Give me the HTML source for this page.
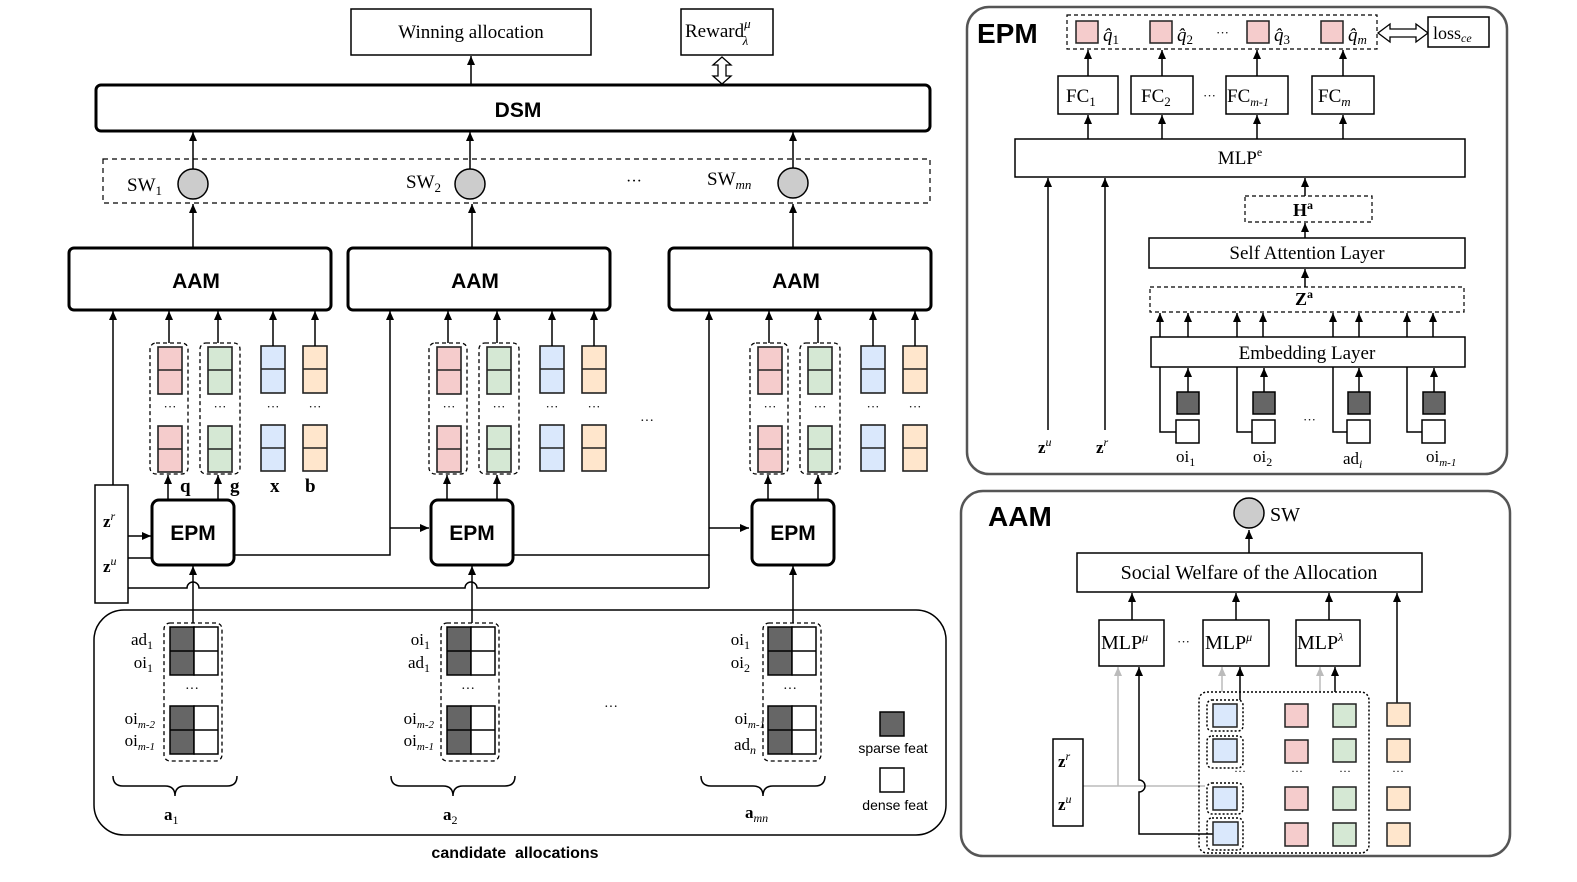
<!DOCTYPE html>
<html><head><meta charset="utf-8"><style>
html,body{margin:0;padding:0;background:#fff;}
svg{display:block;}
text{font-family:"Liberation Serif",serif;fill:#000;}
.s{font-family:"Liberation Sans",sans-serif;font-weight:bold;}
</style></head><body>
<svg width="1577" height="882" viewBox="0 0 1577 882" xmlns="http://www.w3.org/2000/svg">
<defs>
<marker id="a" markerWidth="10" markerHeight="10" refX="9" refY="4" orient="auto" markerUnits="userSpaceOnUse"><path d="M0,0 L9,4 L0,8 Z" fill="#000"/></marker>
<marker id="g" markerWidth="10" markerHeight="10" refX="9" refY="4" orient="auto" markerUnits="userSpaceOnUse"><path d="M0,0 L9,4 L0,8 Z" fill="#bbb"/></marker>
<g id="pk" stroke="#222" stroke-width="1.6"><rect x="0" y="0" width="24" height="47" fill="#f5cccc"/><line x1="0" y1="23" x2="24" y2="23"/><rect x="0" y="79" width="24" height="46" fill="#f5cccc"/><line x1="0" y1="102" x2="24" y2="102"/></g>
<g id="gr" stroke="#222" stroke-width="1.6"><rect x="0" y="0" width="24" height="47" fill="#d5e8d4"/><line x1="0" y1="23" x2="24" y2="23"/><rect x="0" y="79" width="24" height="46" fill="#d5e8d4"/><line x1="0" y1="102" x2="24" y2="102"/></g>
<g id="bl" stroke="#222" stroke-width="1.6"><rect x="0" y="0" width="24" height="47" fill="#dae8fc"/><line x1="0" y1="23" x2="24" y2="23"/><rect x="0" y="79" width="24" height="46" fill="#dae8fc"/><line x1="0" y1="102" x2="24" y2="102"/></g>
<g id="or" stroke="#222" stroke-width="1.6"><rect x="0" y="0" width="24" height="47" fill="#ffe6cc"/><line x1="0" y1="23" x2="24" y2="23"/><rect x="0" y="79" width="24" height="46" fill="#ffe6cc"/><line x1="0" y1="102" x2="24" y2="102"/></g>
<g id="cells" stroke="#000" stroke-width="1.5"><rect x="0" y="0" width="24" height="48" fill="#666"/><rect x="24" y="0" width="24" height="48" fill="#fff"/><line x1="0" y1="24" x2="48" y2="24"/><rect x="0" y="79" width="24" height="48" fill="#666"/><rect x="24" y="79" width="24" height="48" fill="#fff"/><line x1="0" y1="103" x2="48" y2="103"/></g>
</defs>

<rect x="351" y="9" width="240" height="46" fill="#fff" stroke="#000" stroke-width="1.5"/>
<text x="471" y="38" font-size="19" text-anchor="middle">Winning allocation</text>
<rect x="681" y="9" width="92" height="46" fill="#fff" stroke="#000" stroke-width="1.5"/>
<text x="685" y="37" font-size="19">Reward<tspan font-size="13" font-style="italic" dy="-9">μ</tspan><tspan font-size="13" font-style="italic" dx="-8" dy="17">λ</tspan></text>
<line x1="471" y1="84" x2="471" y2="56" stroke="#000" stroke-width="1.5" marker-end="url(#a)"/>
<path d="M722,57 L731,65 L726,65 L726,76 L731,76 L722,84 L713,76 L718,76 L718,65 L713,65 Z" fill="#fff" stroke="#000" stroke-width="1.3"/>
<rect x="96" y="85" width="834" height="46" rx="5" fill="#fff" stroke="#000" stroke-width="3"/>
<text x="518" y="117" font-size="21" class="s" text-anchor="middle">DSM</text>
<rect x="103" y="159" width="827" height="44" fill="none" stroke="#000" stroke-width="1.2" stroke-dasharray="5,4"/>
<text x="127" y="191" font-size="19">SW<tspan font-size="13" dy="4">1</tspan></text>
<text x="406" y="188" font-size="19">SW<tspan font-size="13" dy="4">2</tspan></text>
<text x="626" y="186" font-size="16">···</text>
<text x="707" y="185" font-size="19">SW<tspan font-size="13" font-style="italic" dy="4">mn</tspan></text>
<g fill="#ccc" stroke="#000" stroke-width="1.5"><circle cx="193" cy="184" r="15"/><circle cx="470" cy="184" r="15"/><circle cx="793" cy="183" r="15"/></g>
<g stroke="#000" stroke-width="1.5" marker-end="url(#a)">
<line x1="193" y1="169" x2="193" y2="132"/><line x1="470" y1="169" x2="470" y2="132"/><line x1="793" y1="168" x2="793" y2="132"/>
<line x1="193" y1="248" x2="193" y2="204"/><line x1="472" y1="248" x2="472" y2="204"/><line x1="793" y1="248" x2="793" y2="204"/>
</g>

<g fill="#fff" stroke="#000" stroke-width="3"><rect x="69" y="248" width="262" height="62" rx="5"/><rect x="348" y="248" width="262" height="62" rx="5"/><rect x="669" y="248" width="262" height="62" rx="5"/></g>
<text x="196" y="288" font-size="21" class="s" text-anchor="middle">AAM</text>
<text x="475" y="288" font-size="21" class="s" text-anchor="middle">AAM</text>
<text x="796" y="288" font-size="21" class="s" text-anchor="middle">AAM</text>

<g id="grp">
<rect x="150" y="343" width="38" height="131" rx="6" fill="none" stroke="#000" stroke-width="1.3" stroke-dasharray="4,3"/>
<rect x="200" y="343" width="40" height="131" rx="6" fill="none" stroke="#000" stroke-width="1.3" stroke-dasharray="4,3"/>
<use href="#pk" x="158" y="347"/><use href="#gr" x="208" y="347"/><use href="#bl" x="261" y="346"/><use href="#or" x="303" y="346"/>
<g stroke="#000" stroke-width="1.5" marker-end="url(#a)">
<line x1="169" y1="343" x2="169" y2="311"/><line x1="218" y1="343" x2="218" y2="311"/><line x1="273" y1="346" x2="273" y2="311"/><line x1="315" y1="346" x2="315" y2="311"/>
<line x1="168" y1="500" x2="168" y2="475"/><line x1="218" y1="500" x2="218" y2="475"/>
</g>
<rect x="152" y="500" width="82" height="65" rx="7" fill="#fff" stroke="#000" stroke-width="3"/>
<text x="193" y="540" font-size="21" class="s" text-anchor="middle">EPM</text>
<text x="170" y="411" font-size="13" text-anchor="middle">···</text><text x="220" y="411" font-size="13" text-anchor="middle">···</text><text x="273" y="411" font-size="13" text-anchor="middle">···</text><text x="315" y="411" font-size="13" text-anchor="middle">···</text>
<line x1="193" y1="610" x2="193" y2="566" stroke="#000" stroke-width="1.5" marker-end="url(#a)"/>
</g>
<use href="#grp" x="279"/>
<use href="#grp" x="600"/>
<g font-size="19" font-weight="bold"><text x="180" y="492">q</text><text x="230" y="492">g</text><text x="270" y="492">x</text><text x="305" y="492">b</text></g>
<text x="640" y="425" font-size="14">···</text>

<rect x="95" y="485" width="33" height="118" fill="#fff" stroke="#000" stroke-width="1.5"/>
<text x="103" y="527" font-size="17" font-weight="bold">z<tspan font-size="12" font-style="italic" font-weight="normal" dy="-7">r</tspan></text>
<text x="103" y="572" font-size="17" font-weight="bold">z<tspan font-size="12" font-style="italic" font-weight="normal" dy="-7">u</tspan></text>
<g stroke="#000" stroke-width="1.5" fill="none">
<line x1="113" y1="485" x2="113" y2="311" marker-end="url(#a)"/>
<line x1="128" y1="536" x2="151" y2="536" marker-end="url(#a)"/>
<line x1="128" y1="558" x2="152" y2="558"/>
<polyline points="234,555 390,555 390,311" marker-end="url(#a)"/>
<line x1="390" y1="528" x2="429" y2="528" marker-end="url(#a)"/>
<polyline points="513,555 709,555 709,311" marker-end="url(#a)"/>
<line x1="709" y1="588" x2="709" y2="555"/>
<line x1="709" y1="528" x2="749" y2="528" marker-end="url(#a)"/>
<path d="M128,588 L187,588 A6,6 0 0 1 199,588 L465,588 A6,6 0 0 1 477,588 L709,588"/>
</g>

<rect x="94" y="610" width="852" height="225" rx="30" fill="none" stroke="#000" stroke-width="1.5"/>
<g stroke="#000" stroke-width="1.5"><line x1="193" y1="610" x2="193" y2="623"/><line x1="472" y1="610" x2="472" y2="623"/><line x1="793" y1="610" x2="793" y2="623"/></g>
<g fill="none" stroke="#000" stroke-width="1.3" stroke-dasharray="4,3"><rect x="164" y="623" width="58" height="138" rx="6"/><rect x="441" y="623" width="58" height="138" rx="6"/><rect x="763" y="623" width="58" height="138" rx="6"/></g>
<use href="#cells" x="170" y="627"/><use href="#cells" x="447" y="627"/><use href="#cells" x="768" y="627"/>
<g font-size="14" text-anchor="middle"><text x="192" y="693">···</text><text x="468" y="693">···</text><text x="790" y="693">···</text><text x="611" y="711">···</text></g>
<g font-size="17" text-anchor="end">
<text x="153" y="645">ad<tspan font-size="12" dy="4">1</tspan></text><text x="153" y="668">oi<tspan font-size="12" dy="4">1</tspan></text>
<text x="155" y="724">oi<tspan font-size="11" font-style="italic" dy="4">m-2</tspan></text><text x="155" y="746">oi<tspan font-size="11" font-style="italic" dy="4">m-1</tspan></text>
<text x="430" y="645">oi<tspan font-size="12" dy="4">1</tspan></text><text x="430" y="668">ad<tspan font-size="12" dy="4">1</tspan></text>
<text x="434" y="724">oi<tspan font-size="11" font-style="italic" dy="4">m-2</tspan></text><text x="434" y="746">oi<tspan font-size="11" font-style="italic" dy="4">m-1</tspan></text>
<text x="750" y="645">oi<tspan font-size="12" dy="4">1</tspan></text><text x="750" y="668">oi<tspan font-size="12" dy="4">2</tspan></text>
<text x="765" y="724">oi<tspan font-size="11" font-style="italic" dy="4">m-1</tspan></text><text x="756" y="750">ad<tspan font-size="12" font-style="italic" dy="4">n</tspan></text>
</g>
<g fill="none" stroke="#000" stroke-width="1.5">
<path d="M113,776 Q113,786 123,786 L165,786 Q175,786 175,796 Q175,786 185,786 L227,786 Q237,786 237,776"/>
<path d="M391,776 Q391,786 401,786 L443,786 Q453,786 453,796 Q453,786 463,786 L505,786 Q515,786 515,776"/>
<path d="M701,776 Q701,786 711,786 L753,786 Q763,786 763,796 Q763,786 773,786 L815,786 Q825,786 825,776"/>
</g>
<g font-size="17" font-weight="bold"><text x="164" y="820">a<tspan font-size="12" font-weight="normal" dy="4">1</tspan></text><text x="443" y="820">a<tspan font-size="12" font-weight="normal" dy="4">2</tspan></text><text x="745" y="818">a<tspan font-size="12" font-weight="normal" font-style="italic" dy="4">mn</tspan></text></g>
<rect x="880" y="712" width="24" height="24" fill="#666" stroke="#000" stroke-width="1.5"/>
<rect x="880" y="768" width="24" height="24" fill="#fff" stroke="#000" stroke-width="1.5"/>
<text x="893" y="753" font-size="14" class="s" text-anchor="middle" style="font-weight:normal">sparse feat</text>
<text x="895" y="810" font-size="14" class="s" text-anchor="middle" style="font-weight:normal">dense feat</text>
<text x="515" y="858" font-size="16" class="s" text-anchor="middle">candidate&#160; allocations</text>

<rect x="967" y="7" width="540" height="467" rx="22" fill="none" stroke="#555" stroke-width="2.5"/>
<text x="977" y="43" font-size="28" class="s">EPM</text>
<rect x="1067" y="15" width="310" height="34" fill="none" stroke="#000" stroke-width="1.2" stroke-dasharray="4,3"/>
<g fill="#f5cccc" stroke="#222" stroke-width="1.5"><rect x="1076" y="21" width="22" height="22"/><rect x="1150" y="21" width="22" height="22"/><rect x="1247" y="21" width="22" height="22"/><rect x="1321" y="21" width="22" height="22"/></g>
<g font-size="19" font-style="italic"><text x="1103" y="41">q̂<tspan font-size="13" font-style="normal" dy="3">1</tspan></text><text x="1177" y="41">q̂<tspan font-size="13" font-style="normal" dy="3">2</tspan></text><text x="1274" y="41">q̂<tspan font-size="13" font-style="normal" dy="3">3</tspan></text><text x="1348" y="41">q̂<tspan font-size="13" dy="3">m</tspan></text></g>
<text x="1216" y="37" font-size="13">···</text>
<path d="M1378,33 L1390,24 L1390,29 L1416,29 L1416,24 L1428,33 L1416,42 L1416,37 L1390,37 L1390,42 Z" fill="#fff" stroke="#000" stroke-width="1.3"/>
<rect x="1428" y="17" width="61" height="30" fill="#fff" stroke="#000" stroke-width="1.5"/>
<text x="1433" y="39" font-size="18">loss<tspan font-size="12" font-style="italic" dy="3">ce</tspan></text>
<g fill="#fff" stroke="#000" stroke-width="1.5"><rect x="1058" y="76" width="60" height="38"/><rect x="1131" y="76" width="62" height="38"/><rect x="1226" y="76" width="62" height="38"/><rect x="1312" y="76" width="62" height="38"/></g>
<g font-size="19"><text x="1066" y="102">FC<tspan font-size="13" dy="4">1</tspan></text><text x="1141" y="102">FC<tspan font-size="13" dy="4">2</tspan></text><text x="1227" y="102">FC<tspan font-size="12" font-style="italic" dy="4">m-1</tspan></text><text x="1318" y="102">FC<tspan font-size="13" font-style="italic" dy="4">m</tspan></text></g>
<text x="1203" y="100" font-size="13">···</text>
<rect x="1015" y="139" width="450" height="38" fill="#fff" stroke="#000" stroke-width="1.5"/>
<text x="1240" y="164" font-size="19" text-anchor="middle">MLP<tspan font-size="12" dy="-8">e</tspan></text>
<g stroke="#000" stroke-width="1.5" marker-end="url(#a)">
<line x1="1088" y1="76" x2="1088" y2="50"/><line x1="1162" y1="76" x2="1162" y2="50"/><line x1="1257" y1="76" x2="1257" y2="50"/><line x1="1343" y1="76" x2="1343" y2="50"/>
<line x1="1088" y1="139" x2="1088" y2="115"/><line x1="1162" y1="139" x2="1162" y2="115"/><line x1="1257" y1="139" x2="1257" y2="115"/><line x1="1343" y1="139" x2="1343" y2="115"/>
<line x1="1048" y1="430" x2="1048" y2="178"/><line x1="1105" y1="430" x2="1105" y2="178"/>
<line x1="1305" y1="196" x2="1305" y2="178"/><line x1="1305" y1="238" x2="1305" y2="223"/><line x1="1305" y1="287" x2="1305" y2="269"/>
<line x1="1160" y1="337" x2="1160" y2="313"/><line x1="1188" y1="337" x2="1188" y2="313"/><line x1="1237" y1="337" x2="1237" y2="313"/><line x1="1263" y1="337" x2="1263" y2="313"/><line x1="1333" y1="337" x2="1333" y2="313"/><line x1="1359" y1="337" x2="1359" y2="313"/><line x1="1407" y1="337" x2="1407" y2="313"/><line x1="1433" y1="337" x2="1433" y2="313"/>
<line x1="1188" y1="392" x2="1188" y2="368"/><line x1="1264" y1="392" x2="1264" y2="368"/><line x1="1359" y1="392" x2="1359" y2="368"/><line x1="1434" y1="392" x2="1434" y2="368"/>
</g>
<rect x="1245" y="196" width="127" height="26" fill="none" stroke="#000" stroke-width="1.2" stroke-dasharray="4,3"/>
<text x="1293" y="216" font-size="18" font-weight="bold">H<tspan font-size="12" dy="-7">a</tspan></text>
<rect x="1149" y="238" width="316" height="30" fill="#fff" stroke="#000" stroke-width="1.5"/>
<text x="1307" y="259" font-size="19" text-anchor="middle">Self Attention Layer</text>
<rect x="1150" y="287" width="314" height="25" fill="none" stroke="#000" stroke-width="1.2" stroke-dasharray="4,3"/>
<text x="1295" y="305" font-size="18" font-weight="bold">Z<tspan font-size="12" dy="-7">a</tspan></text>
<rect x="1151" y="337" width="314" height="30" fill="#fff" stroke="#000" stroke-width="1.5"/>
<text x="1307" y="359" font-size="19" text-anchor="middle">Embedding Layer</text>
<g stroke="#000" stroke-width="1.5" fill="none">
<polyline points="1160,367 1160,432 1176,432"/><polyline points="1237,367 1237,432 1252,432"/><polyline points="1333,367 1333,432 1347,432"/><polyline points="1407,367 1407,432 1422,432"/>
</g>
<g stroke="#000" stroke-width="1.5">
<rect x="1177" y="392" width="22" height="22" fill="#666"/><rect x="1176" y="420" width="23" height="23" fill="#fff"/>
<rect x="1253" y="392" width="22" height="22" fill="#666"/><rect x="1252" y="420" width="23" height="23" fill="#fff"/>
<rect x="1348" y="392" width="22" height="22" fill="#666"/><rect x="1347" y="420" width="23" height="23" fill="#fff"/>
<rect x="1423" y="392" width="22" height="22" fill="#666"/><rect x="1422" y="420" width="23" height="23" fill="#fff"/>
</g>
<text x="1303" y="424" font-size="13">···</text>
<g font-size="17"><text x="1176" y="462">oi<tspan font-size="12" dy="4">1</tspan></text><text x="1253" y="462">oi<tspan font-size="12" dy="4">2</tspan></text><text x="1343" y="464">ad<tspan font-size="12" font-style="italic" dy="4">i</tspan></text><text x="1426" y="462">oi<tspan font-size="11" font-style="italic" dy="4">m-1</tspan></text></g>
<g font-size="17" font-weight="bold"><text x="1038" y="453">z<tspan font-size="12" font-weight="normal" font-style="italic" dy="-7">u</tspan></text><text x="1096" y="453">z<tspan font-size="12" font-weight="normal" font-style="italic" dy="-7">r</tspan></text></g>

<rect x="961" y="491" width="549" height="365" rx="22" fill="none" stroke="#555" stroke-width="2.5"/>
<text x="988" y="526" font-size="28" class="s">AAM</text>
<circle cx="1249" cy="513" r="15" fill="#ccc" stroke="#000" stroke-width="1.5"/>
<text x="1270" y="521" font-size="20">SW</text>
<rect x="1077" y="553" width="345" height="39" fill="#fff" stroke="#000" stroke-width="1.5"/>
<text x="1249" y="579" font-size="20" text-anchor="middle">Social Welfare of the Allocation</text>
<g fill="#fff" stroke="#000" stroke-width="1.5"><rect x="1099" y="620" width="65" height="46"/><rect x="1203" y="620" width="66" height="46"/><rect x="1296" y="620" width="64" height="46"/></g>
<g font-size="20"><text x="1101" y="649">MLP<tspan font-size="12" font-style="italic" dy="-8">μ</tspan></text><text x="1205" y="649">MLP<tspan font-size="12" font-style="italic" dy="-8">μ</tspan></text><text x="1297" y="649">MLP<tspan font-size="12" font-style="italic" dy="-8">λ</tspan></text></g>
<text x="1177" y="646" font-size="13">···</text>
<g stroke="#000" stroke-width="1.5" marker-end="url(#a)">
<line x1="1249" y1="553" x2="1249" y2="530"/>
<line x1="1132" y1="620" x2="1132" y2="593"/><line x1="1236" y1="620" x2="1236" y2="593"/><line x1="1329" y1="620" x2="1329" y2="593"/><line x1="1397" y1="703" x2="1397" y2="593"/>
<line x1="1240" y1="700" x2="1240" y2="667"/><line x1="1335" y1="692" x2="1335" y2="667"/>
</g>
<g stroke="#bbb" stroke-width="1.5" fill="none">
<line x1="1083" y1="786" x2="1205" y2="786"/>
<line x1="1118" y1="786" x2="1118" y2="667" marker-end="url(#g)"/>
<line x1="1222" y1="692" x2="1222" y2="667" marker-end="url(#g)"/>
<line x1="1320" y1="692" x2="1320" y2="667" marker-end="url(#g)"/>
</g>
<path d="M1213,834 L1139,834 L1139,792 A6,6 0 0 0 1139,780 L1139,667" fill="none" stroke="#000" stroke-width="1.5" marker-end="url(#a)"/>
<rect x="1053" y="739" width="30" height="87" fill="#fff" stroke="#000" stroke-width="1.5"/>
<text x="1058" y="767" font-size="17" font-weight="bold">z<tspan font-size="12" font-weight="normal" font-style="italic" dy="-7">r</tspan></text>
<text x="1058" y="810" font-size="17" font-weight="bold">z<tspan font-size="12" font-weight="normal" font-style="italic" dy="-7">u</tspan></text>
<rect x="1199" y="692" width="170" height="161" rx="8" fill="none" stroke="#000" stroke-width="1.5" stroke-dasharray="2,2"/>
<g fill="none" stroke="#000" stroke-width="1.5" stroke-dasharray="2,2"><rect x="1207" y="700" width="36" height="31" rx="5"/><rect x="1207" y="736" width="36" height="32" rx="5"/><rect x="1207" y="783" width="36" height="31" rx="5"/><rect x="1207" y="818" width="36" height="32" rx="5"/></g>
<g stroke="#222" stroke-width="1.5">
<rect x="1213" y="704" width="24" height="23" fill="#dae8fc"/><rect x="1213" y="739" width="24" height="23" fill="#dae8fc"/><rect x="1213" y="787" width="24" height="23" fill="#dae8fc"/><rect x="1213" y="822" width="25" height="23" fill="#dae8fc"/>
<rect x="1285" y="704" width="23" height="23" fill="#f5cccc"/><rect x="1285" y="740" width="23" height="23" fill="#f5cccc"/><rect x="1285" y="787" width="23" height="23" fill="#f5cccc"/><rect x="1285" y="823" width="23" height="23" fill="#f5cccc"/>
<rect x="1333" y="704" width="23" height="23" fill="#d5e8d4"/><rect x="1333" y="739" width="23" height="23" fill="#d5e8d4"/><rect x="1333" y="787" width="23" height="23" fill="#d5e8d4"/><rect x="1333" y="823" width="23" height="23" fill="#d5e8d4"/>
<rect x="1387" y="703" width="23" height="23" fill="#ffe6cc"/><rect x="1387" y="739" width="23" height="23" fill="#ffe6cc"/><rect x="1387" y="787" width="23" height="23" fill="#ffe6cc"/><rect x="1387" y="823" width="23" height="23" fill="#ffe6cc"/>
</g>
<g font-size="12" text-anchor="middle"><text x="1240" y="775">···</text><text x="1297" y="775">···</text><text x="1345" y="775">···</text><text x="1398" y="775">···</text></g>
</svg>
</body></html>
